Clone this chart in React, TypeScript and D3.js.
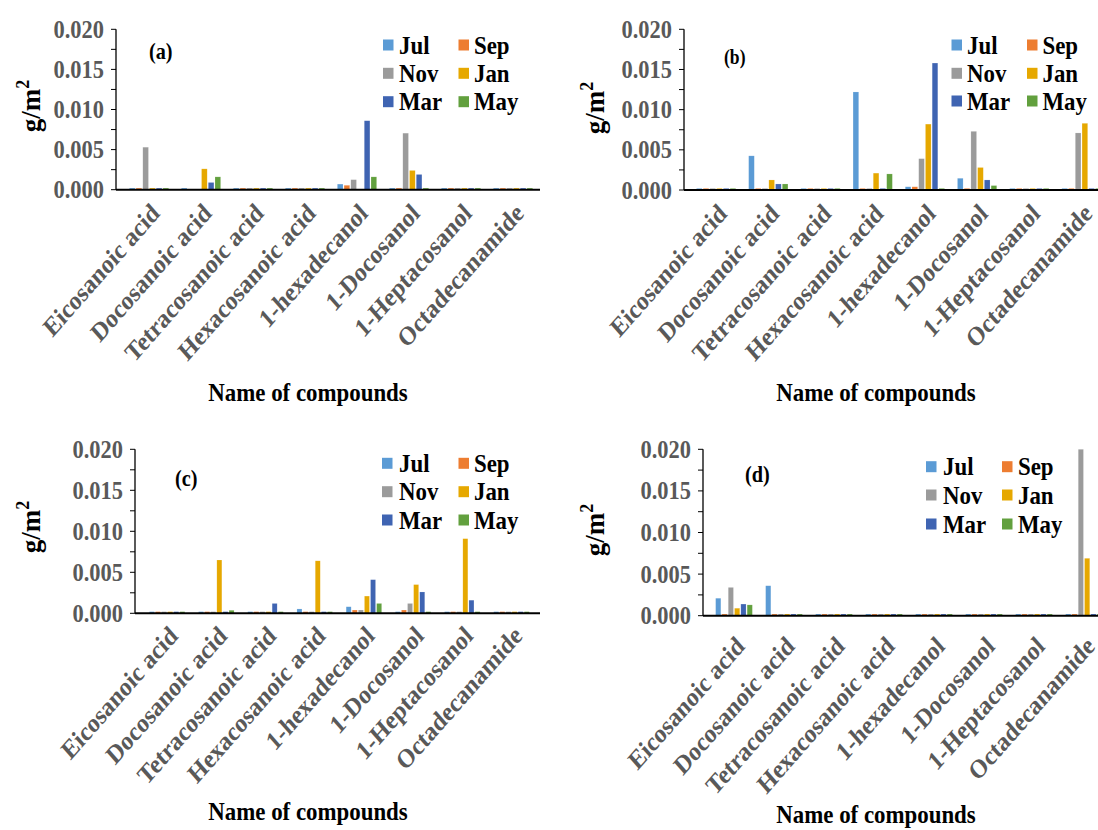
import React from "react";
import * as d3 from "d3";

// Compounds on the category axis, shared by all four panels
const compounds = [
  "Eicosanoic acid",
  "Docosanoic acid",
  "Tetracosanoic acid",
  "Hexacosanoic acid",
  "1-hexadecanol",
  "1-Docosanol",
  "1-Heptacosanol",
  "Octadecanamide",
];

// Sampling months (series)
const months = ["Jul", "Sep", "Nov", "Jan", "Mar", "May"];

const monthColors: Record<string, string> = {
  Jul: "#5B9BD5",
  Sep: "#ED7D31",
  Nov: "#9B9B9B",
  Jan: "#E6A800",
  Mar: "#3F64B2",
  May: "#62A03E",
};

// Y tick values (g/m2)
const yTicks = [0, 0.0025, 0.005, 0.0075, 0.01, 0.0125, 0.015, 0.0175, 0.02];

// Values per month, one entry per compound (g/m2)
// Panel (a)
const aJul = [0.0002, 0.0002, 0.0002, 0.0002, 0.0007, 0.0002, 0.0002, 0.0002];
const aSep = [0.0002, 0, 0.0002, 0.0002, 0.00055, 0.0002, 0.0002, 0.0002];
const aNov = [0.0053, 0, 0.0002, 0.0002, 0.00125, 0.00705, 0.0002, 0.0002];
const aJan = [0.0002, 0.0026, 0.0002, 0.0002, 0, 0.0024, 0.0002, 0.0002];
const aMar = [0.0002, 0.0009, 0.0002, 0.0002, 0.0086, 0.0019, 0.0002, 0.0002];
const aMay = [0.0002, 0.0016, 0.0002, 0.0002, 0.0016, 0.0002, 0.0002, 0.0002];

// Panel (b)
const bJul = [0.0002, 0.00425, 0.0002, 0.0122, 0.0004, 0.00146, 0.0002, 0.0002];
const bSep = [0.0002, 0.0002, 0.0002, 0.0002, 0.0004, 0.0002, 0.0002, 0.0002];
const bNov = [0.0002, 0.0002, 0.0002, 0.0002, 0.0039, 0.0073, 0.0002, 0.0071];
const bJan = [0.0002, 0.00125, 0.0002, 0.0021, 0.0082, 0.0028, 0.0002, 0.0083];
const bMar = [0.0002, 0.00075, 0.0002, 0.0002, 0.0158, 0.00125, 0.0002, 0.0002];
const bMay = [0.0002, 0.00075, 0.0002, 0.002, 0.0002, 0.00055, 0.0002, 0.0002];

// Panel (c)
const cJul = [0.0002, 0.0002, 0.0002, 0.00053, 0.0008, 0.0002, 0.0002, 0.0002];
const cSep = [0.0002, 0.0002, 0.0002, 0.0002, 0.0004, 0.0004, 0.0002, 0.0002];
const cNov = [0.0002, 0.0002, 0.0002, 0.0002, 0.0004, 0.0012, 0.0002, 0.0002];
const cJan = [0.0002, 0.0065, 0.0002, 0.0064, 0.0021, 0.0035, 0.0091, 0.0002];
const cMar = [0.0002, 0.0002, 0.0012, 0.0002, 0.0041, 0.0026, 0.0016, 0.0002];
const cMay = [0.0002, 0.00037, 0.0002, 0.0002, 0.0012, 0.0002, 0.0002, 0.0002];

// Panel (d)
const dJul = [0.0021, 0.0036, 0.0002, 0.0002, 0.0002, 0.0002, 0.0002, 0.0002];
const dSep = [0.0002, 0.0002, 0.0002, 0.0002, 0.0002, 0.0002, 0.0002, 0.0002];
const dNov = [0.0034, 0.0002, 0.0002, 0.0002, 0.0002, 0.0002, 0.0002, 0.02];
const dJan = [0.0009, 0.0002, 0.0002, 0.0002, 0.0002, 0.0002, 0.0002, 0.0069];
const dMar = [0.0014, 0.0002, 0.0002, 0.0002, 0.0002, 0.0002, 0.0002, 0.0002];
const dMay = [0.0013, 0.0002, 0.0002, 0.0002, 0.0002, 0.0002, 0.0002, 0.0002];

const FONT = "'Liberation Serif', 'Times New Roman', serif";
const SX = 0.88; // horizontal squeeze applied to all lettering

type Layout = {
  tag: string;
  tagSize: number;
  tagX: number;
  tagY: number;
  axisX: number;
  bandStart: number;
  group: number;
  step: number;
  yTop: number;
  yBase: number;
  axisEnd: number;
  legSq: [number, number];
  legTx: [number, number];
  legRows: number[];
  yTitleX: number;
  yTitleY: number;
  xTitleX: number;
  xTitleY: number;
  lblDx: number;
  lblDy: number;
};

const S = ({ x, y, size, fill, anchor, weight, children, rotate }: any) => (
  <text
    transform={`translate(${x},${y}) scale(${SX},1)${rotate ? ` rotate(${rotate})` : ""}`}
    fontFamily={FONT}
    fontWeight={weight ?? "bold"}
    fontSize={size}
    fill={fill ?? "#000"}
    textAnchor={anchor ?? "start"}
  >
    {children}
  </text>
);

function Panel({ L, series }: { L: Layout; series: number[][] }) {
  const inner = L.step * months.length;
  const gapFrac = (L.group - inner) / L.group;
  const x0 = d3
    .scaleBand<string>()
    .domain(compounds)
    .range([L.bandStart, L.bandStart + L.group * compounds.length])
    .paddingInner(gapFrac)
    .paddingOuter(gapFrac / 2);
  const x1 = d3.scaleBand<string>().domain(months).range([0, x0.bandwidth()]);
  const y = d3.scaleLinear().domain([0, 0.02]).range([L.yBase, L.yTop]);
  const fmt = d3.format(".3f");
  const bw = x1.bandwidth() - 1.1;

  return (
    <g>
      {/* bars */}
      {compounds.map((c, ci) => (
        <g key={c} transform={`translate(${x0(c)},0)`}>
          {months.map((m, mi) => {
            const v = series[mi][ci];
            if (v <= 0) return null;
            const top = y(v);
            return (
              <rect
                key={m}
                x={(x1(m) as number) + 0.55}
                y={top}
                width={bw}
                height={L.yBase - top}
                fill={monthColors[m]}
                stroke="#ffffff"
                strokeOpacity={0.3}
                strokeWidth={0.5}
              />
            );
          })}
        </g>
      ))}

      {/* y axis */}
      <line x1={L.axisX} x2={L.axisX} y1={L.yTop} y2={L.yBase} stroke="#000" strokeWidth={1.3} />
      {yTicks.map((t) => (
        <line key={t} x1={L.axisX - 5} x2={L.axisX} y1={y(t)} y2={y(t)} stroke="#000" strokeWidth={1} />
      ))}
      {yTicks
        .filter((t, i) => i % 2 === 0)
        .map((t) => (
          <S key={t} x={L.axisX - 12} y={y(t) + 8.5} size={25.5} fill="#595959" anchor="end">
            {fmt(t)}
          </S>
        ))}

      {/* x axis */}
      <line x1={L.axisX} x2={L.axisEnd} y1={L.yBase} y2={L.yBase} stroke="#000" strokeWidth={2} />
      {compounds.map((c) => {
        const cx = (x0(c) as number) + x0.bandwidth() / 2;
        return (
          <S
            key={c}
            x={cx + L.lblDx}
            y={L.yBase + L.lblDy}
            size={26.5}
            fill="#595959"
            anchor="end"
            rotate={-45}
          >
            {c}
          </S>
        );
      })}

      {/* titles */}
      <S x={L.xTitleX} y={L.xTitleY} size={26} anchor="middle">
        Name of compounds
      </S>
      <text
        transform={`translate(${L.yTitleX},${L.yTitleY}) rotate(-90)`}
        fontFamily={FONT}
        fontWeight="bold"
        fontSize={27}
        textAnchor="middle"
        fill="#000"
      >
        g/m
        <tspan fontSize={18} dy={-11}>
          2
        </tspan>
      </text>
      <S x={L.tagX} y={L.tagY} size={L.tagSize}>
        {L.tag}
      </S>

      {/* legend */}
      {months.map((m, i) => {
        const col = i % 2;
        const row = Math.floor(i / 2);
        const cy = L.legRows[row];
        return (
          <g key={m}>
            <rect x={L.legSq[col]} y={cy - 5.5} width={10.5} height={11} fill={monthColors[m]} />
            <S x={L.legTx[col]} y={cy + 8.5} size={26}>
              {m}
            </S>
          </g>
        );
      })}
    </g>
  );
}

const layouts: Layout[] = [
  {
    tag: "(a)", tagSize: 23, tagX: 149, tagY: 59,
    axisX: 116, bandStart: 123, group: 52, step: 6.73,
    yTop: 29.3, yBase: 189.7, axisEnd: 540,
    legSq: [383, 458.5], legTx: [399, 474], legRows: [45, 73.3, 101.7],
    yTitleX: 40, yTitleY: 106, xTitleX: 308, xTitleY: 401,
    lblDx: 12, lblDy: 25,
  },
  {
    tag: "(b)", tagSize: 20, tagX: 724, tagY: 64,
    axisX: 684, bandStart: 690, group: 52.2, step: 6.73,
    yTop: 29.3, yBase: 190, axisEnd: 1098,
    legSq: [951.5, 1027], legTx: [967, 1042.5], legRows: [45, 73.3, 101],
    yTitleX: 604, yTitleY: 108, xTitleX: 876, xTitleY: 401,
    lblDx: 12, lblDy: 25,
  },
  {
    tag: "(c)", tagSize: 23, tagX: 175, tagY: 486,
    axisX: 135, bandStart: 142.5, group: 49.2, step: 6.1,
    yTop: 449.3, yBase: 613.3, axisEnd: 540,
    legSq: [382, 458.5], legTx: [399, 474], legRows: [463.3, 491.7, 520],
    yTitleX: 40, yTitleY: 527, xTitleX: 308, xTitleY: 820,
    lblDx: 12, lblDy: 24,
  },
  {
    tag: "(d)", tagSize: 23, tagX: 745, tagY: 482,
    axisX: 703, bandStart: 709, group: 50, step: 6.3,
    yTop: 449.3, yBase: 615.7, axisEnd: 1098,
    legSq: [926, 1002], legTx: [943, 1018], legRows: [466.7, 495, 524],
    yTitleX: 604, yTitleY: 530, xTitleX: 876, xTitleY: 823,
    lblDx: 12, lblDy: 32,
  },
];

const panelSeries: number[][][] = [
  [aJul, aSep, aNov, aJan, aMar, aMay],
  [bJul, bSep, bNov, bJan, bMar, bMay],
  [cJul, cSep, cNov, cJan, cMar, cMay],
  [dJul, dSep, dNov, dJan, dMar, dMay],
];

export default function App() {
  return (
    <svg
      width={1098}
      height={830}
      style={{ position: "absolute", left: 0, top: 0, background: "#fff" }}
    >
      <rect width={1098} height={830} fill="#fff" />
      {layouts.map((L, i) => (
        <Panel key={L.tag} L={L} series={panelSeries[i]} />
      ))}
    </svg>
  );
}
